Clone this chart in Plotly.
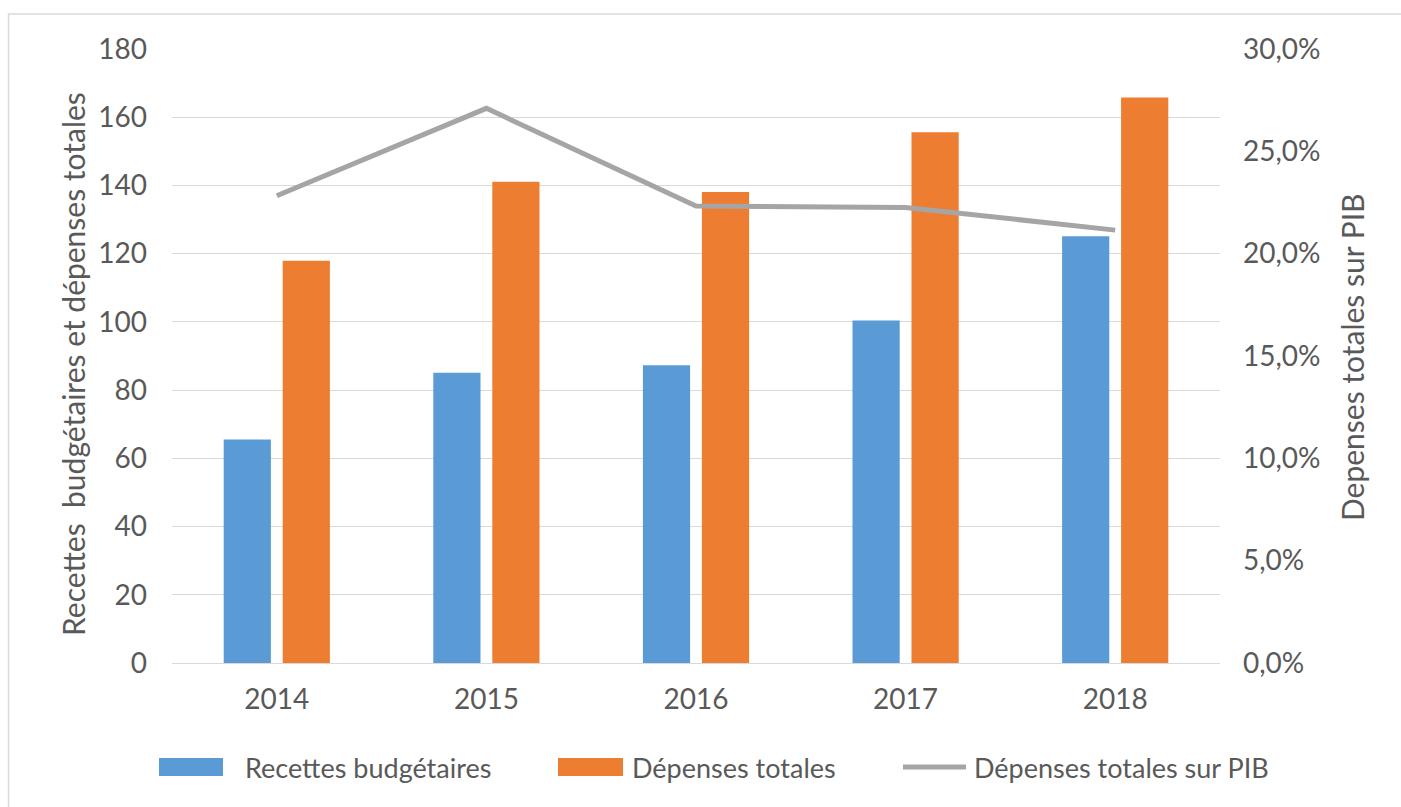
import plotly.graph_objects as go

# ---- data ----
years = ["2014", "2015", "2016", "2017", "2018"]
recettes = [65.5, 85.1, 87.3, 100.4, 125.1]
depenses = [117.9, 141.1, 138.1, 155.6, 165.8]
dep_pib = [0.2283, 0.2710, 0.2233, 0.2226, 0.2115]

name_rec = "Recettes budgétaires"
name_dep = "Dépenses totales"
name_pib = "Dépenses totales sur PIB"
title_left = "Recettes  budgétaires et dépenses totales"
title_right = "Depenses totales sur PIB"

BLUE = "#5b9bd5"
ORANGE = "#ed7d31"
GRAY = "#a5a5a5"
TXT = "#595959"
GRID = "#d9d9d9"
FONT = "Lato"

W, H = 1401, 807
L, R, T, B = 172, 181, 49, 144
PW, PH = W - L - R, H - T - B


def px(xp):
    return (xp - L) / PW


def py(yp):
    return (H - B - yp) / PH


fig = go.Figure()
fig.add_trace(go.Bar(x=years, y=recettes, name=name_rec, marker=dict(color=BLUE, line=dict(width=0)),
                     showlegend=False))
fig.add_trace(go.Bar(x=years, y=depenses, name=name_dep, marker=dict(color=ORANGE, line=dict(width=0)),
                     showlegend=False))
fig.add_trace(go.Scatter(x=years, y=dep_pib, name=name_pib, mode="lines", yaxis="y2",
                         line=dict(color=GRAY, width=5), showlegend=False))

shapes = [
    # chart border
    dict(type="rect", xref="paper", yref="paper", x0=px(8.5), x1=px(1420), y0=py(14), y1=py(830),
         line=dict(color=GRID, width=1.5), fillcolor="rgba(0,0,0,0)", layer="below"),
    # legend swatches
    dict(type="rect", xref="paper", yref="paper", x0=px(159), x1=px(223), y0=py(776), y1=py(758),
         line=dict(width=0), fillcolor=BLUE),
    dict(type="rect", xref="paper", yref="paper", x0=px(558), x1=px(623), y0=py(776), y1=py(758),
         line=dict(width=0), fillcolor=ORANGE),
    dict(type="line", xref="paper", yref="paper", x0=px(903), x1=px(966), y0=py(767), y1=py(767),
         line=dict(color=GRAY, width=5)),
]

leg_font = dict(family=FONT, size=27, color=TXT)
title_font = dict(family=FONT, size=30, color=TXT)
annotations = [
    dict(text=name_rec, xref="paper", yref="paper", x=px(243), y=py(767), xanchor="left", yanchor="middle",
         showarrow=False, font=leg_font),
    dict(text=name_dep, xref="paper", yref="paper", x=px(630), y=py(767), xanchor="left", yanchor="middle",
         showarrow=False, font=leg_font),
    dict(text=name_pib, xref="paper", yref="paper", x=px(972), y=py(767), xanchor="left", yanchor="middle",
         showarrow=False, font=leg_font),
    dict(text=title_left, xref="paper", yref="paper", x=px(73), y=py(364), xanchor="center", yanchor="middle",
         textangle=-90, showarrow=False, font=title_font),
    dict(text=title_right, xref="paper", yref="paper", x=px(1352), y=py(357), xanchor="center", yanchor="middle",
         textangle=-90, showarrow=False, font=title_font),
]

tick_font = dict(family=FONT, size=28, color=TXT)

fig.update_layout(
    width=W, height=H, autosize=False,
    margin=dict(l=L, r=R, t=T, b=B, pad=0),
    paper_bgcolor="white", plot_bgcolor="white",
    separators=", ",
    barmode="group", bargap=0.437, bargroupgap=0.2,
    font=dict(family=FONT, color=TXT),
    xaxis=dict(type="category", showgrid=False, showline=True, linecolor=GRID, linewidth=1,
               ticks="", tickfont=tick_font, ticklabelstandoff=11),
    yaxis=dict(range=[0, 180], dtick=20, showgrid=True, gridcolor=GRID, gridwidth=1, zeroline=False,
               showline=False, ticks="", tickfont=tick_font, ticklabelstandoff=24),
    yaxis2=dict(range=[0, 0.30], dtick=0.05, tickformat=".1%", overlaying="y", side="right",
                showgrid=False, zeroline=False, showline=False, ticks="", tickfont=tick_font,
                ticklabelstandoff=22),
    shapes=shapes,
    annotations=annotations,
    showlegend=False,
)

fig.write_html("out.html")
